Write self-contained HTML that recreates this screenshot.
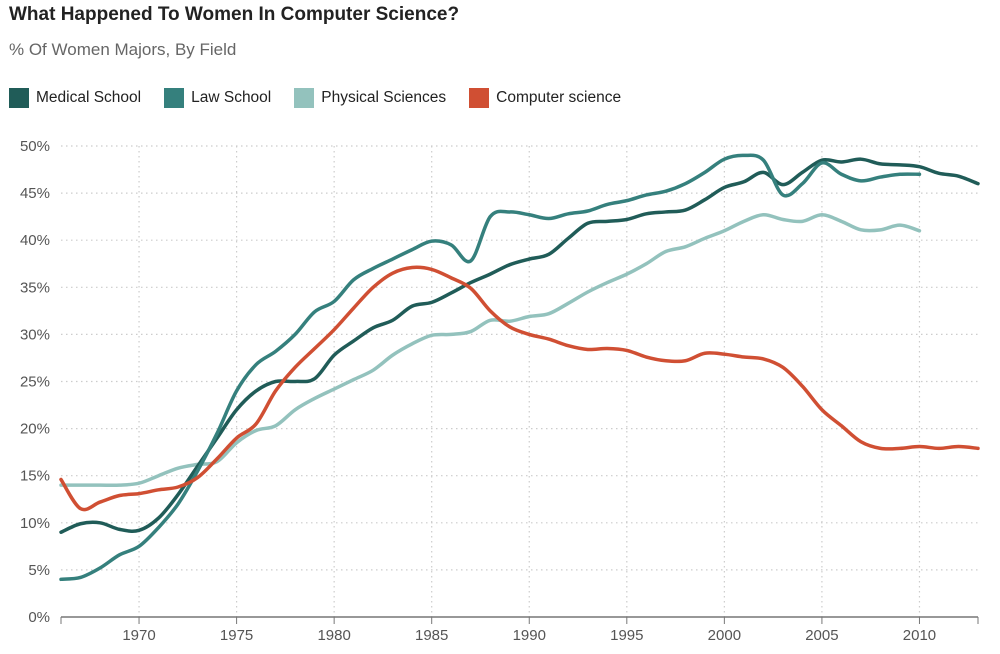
<!DOCTYPE html>
<html><head><meta charset="utf-8"><style>
body{margin:0;background:#fff;font-family:"Liberation Sans",Arial,sans-serif;}
#wrap{position:relative;width:1000px;height:654px;overflow:hidden}
h1{position:absolute;left:9px;top:4px;margin:0;font-size:19px;font-weight:bold;color:#222}
.sub{position:absolute;left:9px;top:40px;font-size:17px;color:#666}
.legend{position:absolute;left:9px;top:88px;display:flex;font-size:15.5px;color:#222}
.li{display:flex;align-items:center;margin-right:23px}
.sw{width:20px;height:20px;margin-right:7px}
svg{position:absolute;left:0;top:0}
</style></head><body>
<div id="wrap">
<h1>What Happened To Women In Computer Science?</h1>
<div class="sub">% Of Women Majors, By Field</div>
<div class="legend">
<div class="li"><div class="sw" style="background:#205c58"></div>Medical School</div>
<div class="li"><div class="sw" style="background:#35807d"></div>Law School</div>
<div class="li"><div class="sw" style="background:#93c2bd"></div>Physical Sciences</div>
<div class="li"><div class="sw" style="background:#d04f33"></div>Computer science</div>
</div>
<svg id="svg" width="1000" height="654"></svg>
</div>
<script>
const startYear = 1966;
const medical = [9.0,9.9,10.0,9.3,9.2,10.5,13.0,16.0,19.0,22.0,24.0,25.0,25.0,25.3,27.8,29.3,30.7,31.5,33.0,33.4,34.4,35.5,36.4,37.4,38.0,38.5,40.2,41.8,42.0,42.2,42.8,43.0,43.2,44.3,45.6,46.2,47.2,45.9,47.2,48.5,48.3,48.6,48.1,48.0,47.8,47.1,46.8,46.0];
const law = [4.0,4.2,5.2,6.6,7.5,9.5,12.0,15.5,19.5,24.0,26.8,28.2,30.0,32.4,33.5,35.8,37.0,38.0,39.0,39.9,39.5,37.8,42.5,43.0,42.7,42.3,42.8,43.1,43.8,44.2,44.8,45.2,46.0,47.2,48.6,49.0,48.5,44.8,46.0,48.2,47.0,46.3,46.7,47.0,47.0];
const physical = [14.0,14.0,14.0,14.0,14.2,15.0,15.8,16.2,16.5,18.5,19.8,20.3,22.0,23.2,24.2,25.2,26.2,27.8,29.0,29.9,30.0,30.3,31.5,31.4,31.9,32.2,33.3,34.5,35.5,36.4,37.5,38.8,39.3,40.2,41.0,42.0,42.7,42.2,42.0,42.7,42.0,41.1,41.1,41.6,41.0];
const cs = [14.6,11.5,12.2,12.9,13.1,13.5,13.8,14.8,16.8,19.0,20.5,24.0,26.5,28.5,30.5,32.8,35.0,36.5,37.1,36.9,36.0,34.9,32.5,30.8,30.0,29.5,28.8,28.4,28.5,28.3,27.6,27.2,27.2,28.0,27.9,27.6,27.4,26.5,24.5,22.0,20.3,18.6,17.9,17.9,18.1,17.9,18.1,17.9];
const yTicks = [0,5,10,15,20,25,30,35,40,45,50];
const xTicks = [1970,1975,1980,1985,1990,1995,2000,2005,2010];

const NS="http://www.w3.org/2000/svg";
const svg=document.getElementById('svg');
const X0=61,X1=978,Y0=617,Y1=146;
const x=yr=>X0+(yr-1966)*(X1-X0)/(2013-1966);
const y=v=>Y0-v*(Y0-Y1)/50;
function mk(t,a){const e=document.createElementNS(NS,t);for(const k in a)e.setAttribute(k,a[k]);svg.appendChild(e);return e;}
yTicks.forEach(v=>{
  if(v>0){const g=mk('line',{x1:X0,x2:X1,y1:y(v),y2:y(v),stroke:'#ccc','stroke-dasharray':'1.5,3.5','stroke-width':1.2});
  
  }
  const t=mk('text',{x:50,y:y(v)+5,'text-anchor':'end','font-size':15,fill:'#555','font-family':'Liberation Sans, sans-serif'});
  t.textContent=v+'%';
  
  
});
xTicks.forEach(yr=>{
  const g=mk('line',{x1:x(yr),x2:x(yr),y1:Y1,y2:Y0,stroke:'#ccc','stroke-dasharray':'1.5,3.5','stroke-width':1.2});
  
  
  const tk=mk('line',{x1:x(yr),x2:x(yr),y1:Y0,y2:Y0+7,stroke:'#777'});
  
  
  const t=mk('text',{x:x(yr),y:640,'text-anchor':'middle','font-size':15,fill:'#555','font-family':'Liberation Sans, sans-serif'});
  t.textContent=yr;
  
  
});
const ax=mk('line',{x1:X0,x2:X1,y1:Y0,y2:Y0,stroke:'#777','stroke-width':1.5});


[X0,X1].forEach(px=>{const e=mk('line',{x1:px,x2:px,y1:Y0,y2:Y0+7,stroke:'#777'});

});
function path(vals){
  const p=vals.map((v,i)=>[x(startYear+i),y(v)]);
  let d='M'+p[0][0]+','+p[0][1];
  for(let i=0;i<p.length-1;i++){
    const p0=p[i-1]||p[i],p1=p[i],p2=p[i+1],p3=p[i+2]||p2;
    const c1=[p1[0]+(p2[0]-p0[0])/6,p1[1]+(p2[1]-p0[1])/6];
    const c2=[p2[0]-(p3[0]-p1[0])/6,p2[1]-(p3[1]-p1[1])/6];
    d+=`C${c1[0]},${c1[1]} ${c2[0]},${c2[1]} ${p2[0]},${p2[1]}`;
  }
  return d;
}
[[physical,'#93c2bd','line-physical-sciences'],[medical,'#205c58','line-medical-school'],[law,'#35807d','line-law-school'],[cs,'#d04f33','line-computer-science']].forEach(([v,c,n])=>{
  const e=mk('path',{d:path(v),fill:'none',stroke:c,'stroke-width':3.5,'stroke-linejoin':'round','stroke-linecap':'round'});
  
  
});
</script>
</body></html>
